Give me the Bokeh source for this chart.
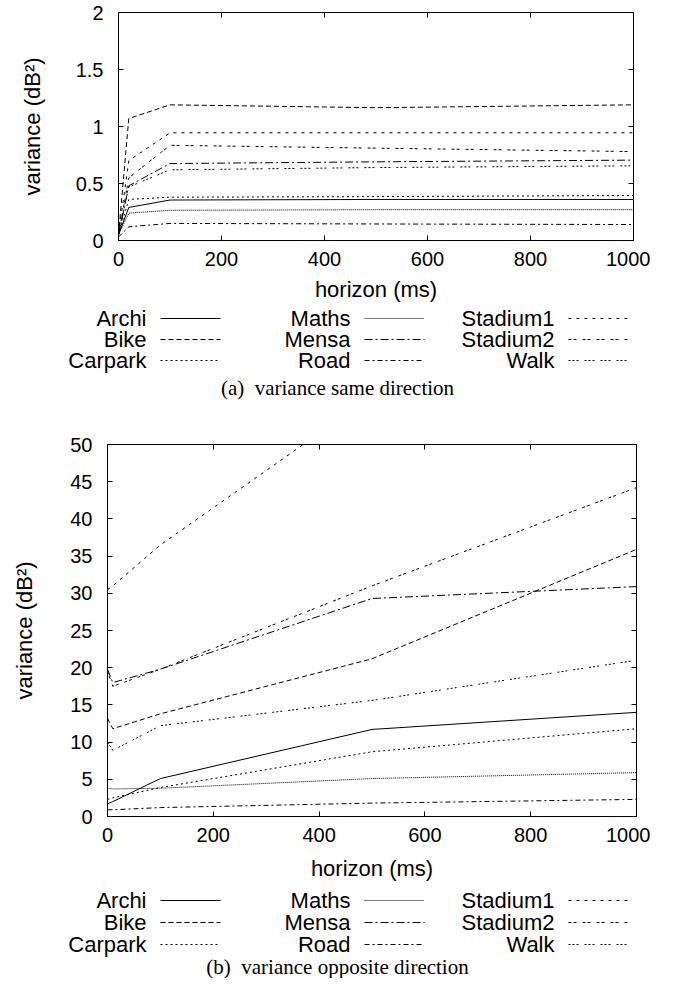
from bokeh.plotting import figure
from bokeh.models import Range1d, LinearAxis, FixedTicker
from bokeh.core.properties import value
from bokeh.embed import file_html
from bokeh.resources import INLINE

# ---------------- data ----------------
series_names = ["Archi", "Bike", "Carpark", "Maths", "Mensa", "Road",
                "Stadium1", "Stadium2", "Walk"]

# (a) variance same direction
horizon_same = [0, 20, 100, 500, 1000]
archi_same = [0.05, 0.29, 0.355, 0.36, 0.36]
bike_same = [0.05, 1.07, 1.19, 1.165, 1.19]
carpark_same = [0.05, 0.36, 0.38, 0.385, 0.395]
maths_same = [0.05, 0.24, 0.265, 0.27, 0.27]
mensa_same = [0.05, 0.48, 0.675, 0.69, 0.705]
road_same = [0.03, 0.12, 0.15, 0.145, 0.14]
stadium1_same = [0.05, 0.70, 0.945, 0.945, 0.945]
stadium2_same = [0.05, 0.55, 0.835, 0.81, 0.78]
walk_same = [0.05, 0.47, 0.62, 0.64, 0.655]

# (b) variance opposite direction
horizon_opp = [0, 10, 100, 500, 1000]
archi_opp = [1.7, 2.0, 5.1, 11.7, 14.0]
bike_opp = [13.2, 11.8, 13.8, 21.2, 35.9]
carpark_opp = [2.3, 2.5, 3.9, 8.7, 11.8]
maths_opp = [3.8, 3.7, 3.8, 5.1, 5.9]
mensa_opp = [19.8, 18.0, 19.8, 29.3, 30.9]
road_opp = [0.9, 0.9, 1.2, 1.8, 2.3]
stadium1_opp = [30.5, 31.0, 36.5, 56.5, 75.0]
stadium2_opp = [19.5, 17.5, 19.8, 31.0, 44.2]
walk_opp = [10.0, 8.9, 12.2, 15.6, 21.0]

x_ticks = [0, 200, 400, 600, 800, 1000]
y_ticks_same = [0, 0.5, 1, 1.5, 2]
y_labels_same = ["0", "0.5", "1", "1.5", "2"]
y_ticks_opp = [0, 5, 10, 15, 20, 25, 30, 35, 40, 45, 50]
y_labels_opp = ["0", "5", "10", "15", "20", "25", "30", "35", "40", "45", "50"]

x_label = "horizon (ms)"
y_label = "variance (dB\u00b2)"
caption_same = "(a)\u2002variance same direction"
caption_opp = "(b)\u2002variance opposite direction"

# ---------------- styles / layout ----------------
DASHES = ["solid", "5 3", "2 3", "1 1", "8 3 2 3", "5 3 2 3", "3 5", "3 2 3 6", "2 2 2 2 2 6"]
SANS = "Liberation Sans"
SERIF = "Liberation Serif"
TICK_FS = "20px"
LABEL_FS = "22px"
W = 650


def make_panel(xs, ys_list, y_end, y_ticks, y_labels, left, right, top, frame_h, bottom,
               xlab_standoff, ylab_standoff):
    p = figure(width=W, height=top + frame_h + bottom,
               x_range=Range1d(0, 1000), y_range=Range1d(0, y_end),
               output_backend="svg", toolbar_location=None,
               x_axis_type=None, y_axis_type=None,
               min_border_left=left, min_border_right=right,
               min_border_top=top, min_border_bottom=bottom)
    p.grid.visible = False
    p.outline_line_color = "black"
    p.outline_line_width = 1

    def axis(ticks, labels, show, standoff):
        ax = LinearAxis(ticker=FixedTicker(ticks=ticks))
        ax.major_label_overrides = {t: l for t, l in zip(ticks, labels)}
        ax.major_tick_in = 5
        ax.major_tick_out = 0
        ax.minor_tick_line_color = None
        ax.axis_line_color = "black"
        ax.major_tick_line_color = "black"
        if show:
            ax.major_label_text_font = SANS
            ax.major_label_text_font_size = TICK_FS
            ax.major_label_text_color = "black"
            ax.major_label_standoff = standoff
        else:
            ax.major_label_text_font_size = "0px"
            ax.major_label_standoff = 0
        return ax

    xb = axis(x_ticks, [str(t) for t in x_ticks], True, 11)
    xb.axis_label = x_label
    xb.axis_label_text_font = SANS
    xb.axis_label_text_font_size = LABEL_FS
    xb.axis_label_text_font_style = "normal"
    xb.axis_label_text_color = "black"
    xb.axis_label_standoff = xlab_standoff
    p.add_layout(xb, "below")

    yl = axis(y_ticks, y_labels, True, 15)
    yl.axis_label = y_label
    yl.axis_label_text_font = SANS
    yl.axis_label_text_font_size = LABEL_FS
    yl.axis_label_text_font_style = "normal"
    yl.axis_label_text_color = "black"
    yl.axis_label_standoff = ylab_standoff
    p.add_layout(yl, "left")

    p.add_layout(axis(x_ticks, [""] * len(x_ticks), False, 0), "above")
    p.add_layout(axis(y_ticks, [""] * len(y_ticks), False, 0), "right")

    for ys, dash in zip(ys_list, DASHES):
        p.line(xs, ys, line_color="black", line_width=1, line_dash=dash)
    return p


def make_legend(caption, height, rows_y, caption_y):
    # a frameless figure whose x range is expressed in page pixels
    q = figure(width=W, height=height, x_range=Range1d(8, 8 + W), y_range=Range1d(height, 0),
               output_backend="svg", toolbar_location=None,
               x_axis_type=None, y_axis_type=None, min_border=0)
    q.grid.visible = False
    q.outline_line_color = None
    col_right = [154, 358, 562]
    tx, ty = [], []
    for i, name in enumerate(series_names):
        c, r = divmod(i, 3)
        tx.append(col_right[c])
        ty.append(rows_y[r])
        q.line([col_right[c] + 14, col_right[c] + 74], [rows_y[r], rows_y[r]],
               line_color="black", line_width=1, line_dash=DASHES[i])
    q.text(x=tx, y=ty, text=series_names, text_align="right", text_baseline="middle",
           text_font=value(SANS), text_font_size=LABEL_FS, text_color="black")
    q.text(x=[345], y=[caption_y], text=[caption], text_align="center", text_baseline="middle",
           text_font=value(SERIF), text_font_size="21px", text_color="black")
    return q


pa = make_panel(horizon_same,
                [archi_same, bike_same, carpark_same, maths_same, mensa_same, road_same,
                 stadium1_same, stadium2_same, walk_same],
                2, y_ticks_same, y_labels_same, 118, 17, 12, 234, 58, 8, 28)
la = make_legend(caption_same, 100, [14, 35, 56], 83)
pb = make_panel(horizon_opp,
                [archi_opp, bike_opp, carpark_opp, maths_opp, mensa_opp, road_opp,
                 stadium1_opp, stadium2_opp, walk_opp],
                50, y_ticks_opp, y_labels_opp, 107, 14, 40, 381, 58, 11, 30)
lb = make_legend(caption_opp, 95, [17, 39, 61], 83)

# separate roots so that the legend figures are not frame-aligned with the panels
open("out.html", "w").write(file_html([pa, la, pb, lb], INLINE))
